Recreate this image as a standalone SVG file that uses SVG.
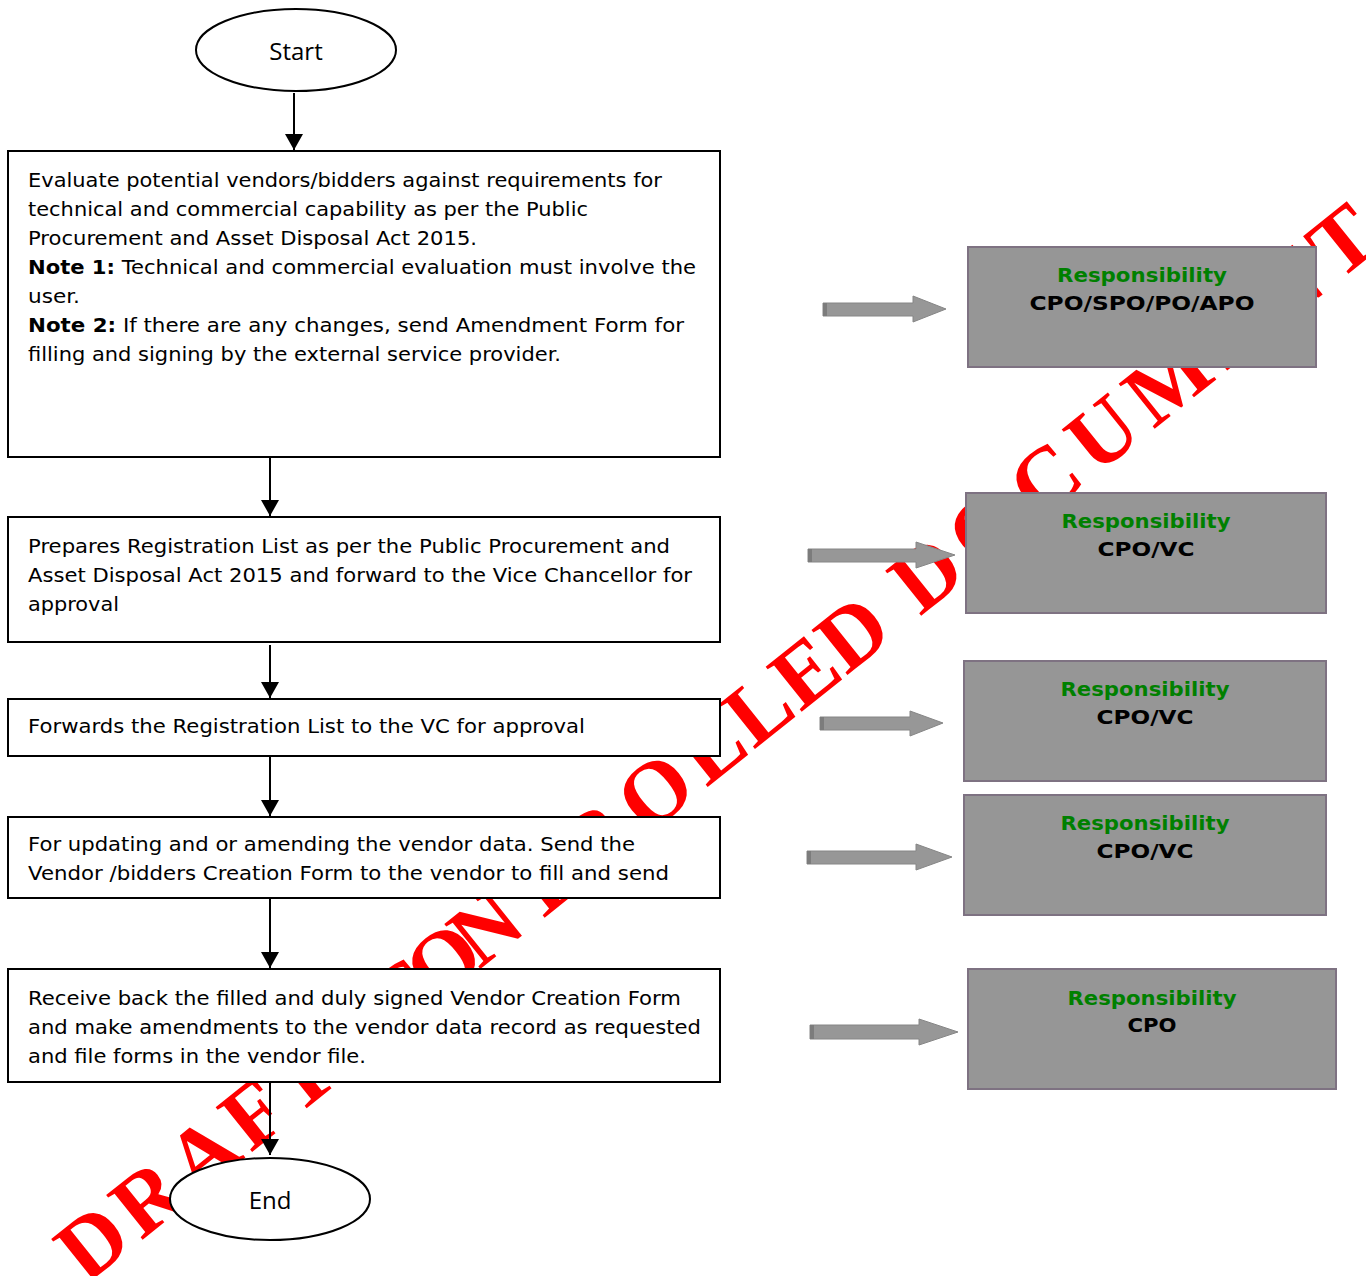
<svg xmlns="http://www.w3.org/2000/svg" width="1366" height="1276" viewBox="0 0 1366 1276">
  <defs>
    <style>
      .step { fill: #ffffff; stroke: #000000; stroke-width: 2; }
      .term { fill: #ffffff; stroke: #000000; stroke-width: 2; }
      .body { font-family: 'DejaVu Sans', sans-serif; font-size: 20px; fill: #000000; }
      .body tspan.b { font-weight: bold; }
      .termtxt { font-family: 'Open Sans', 'Noto Sans', sans-serif; font-size: 24px; fill: #000000; text-anchor: middle; }
      .resp { fill: #969696; stroke: #7e7282; stroke-width: 2; }
      .resptitle { font-family: 'DejaVu Sans', sans-serif; font-weight: bold; font-size: 20px; fill: #008000; text-anchor: middle; }
      .resprole { font-family: 'DejaVu Sans', sans-serif; font-weight: bold; font-size: 20px; fill: #000000; text-anchor: middle; }
      .flow { stroke: #000000; stroke-width: 2; fill: none; marker-end: url(#head); }
      .block { fill: #979797; stroke: #868686; stroke-width: 1; }
      .blockend { fill: #7c7c7c; }
      .mark { font-family: 'Liberation Serif', 'Times New Roman', serif; font-weight: bold; font-size: 88px; fill: #ff0000; }
    </style>
    <marker id="head" viewBox="0 0 16 18" refX="16" refY="9" markerWidth="16" markerHeight="18" markerUnits="userSpaceOnUse" orient="auto">
      <path d="M0,0 L16,9 L0,18 Z" fill="#000000"/>
    </marker>
  </defs>

  <rect width="1366" height="1276" fill="#ffffff"/>

  <!-- watermark, sits under every shape -->
  <text class="mark" transform="translate(86,1285) rotate(-38.7)" dx="0 7 7 6 5 -20 -20 -20 -20 -12 -12 7 11 11 8 2 1 0 3 6 10 10 10 10 10 10 11">DRAFT UNCONTROLLED DOCUMENT</text>

  <!-- flow nodes -->
  <g id="start">
    <ellipse class="term" cx="296" cy="50" rx="100" ry="41"/>
    <text class="termtxt" x="296" y="60">Start</text>
  </g>

  <g id="evaluate">
    <rect class="step" x="8" y="151" width="712" height="306"/>
    <text class="body" x="28" y="187" textLength="634" lengthAdjust="spacingAndGlyphs">Evaluate potential vendors/bidders against requirements for</text>
    <text class="body" x="28" y="216" textLength="560" lengthAdjust="spacingAndGlyphs">technical and commercial capability as per the Public</text>
    <text class="body" x="28" y="245" textLength="449" lengthAdjust="spacingAndGlyphs">Procurement and Asset Disposal Act 2015.</text>
    <text class="body" x="28" y="274" textLength="668" lengthAdjust="spacingAndGlyphs"><tspan class="b">Note 1:</tspan> Technical and commercial evaluation must involve the</text>
    <text class="body" x="28" y="303" textLength="52" lengthAdjust="spacingAndGlyphs">user.</text>
    <text class="body" x="28" y="332" textLength="656" lengthAdjust="spacingAndGlyphs"><tspan class="b">Note 2:</tspan> If there are any changes, send Amendment Form for</text>
    <text class="body" x="28" y="361" textLength="533" lengthAdjust="spacingAndGlyphs">filling and signing by the external service provider.</text>
  </g>

  <g id="prepare">
    <rect class="step" x="8" y="517" width="712" height="125"/>
    <text class="body" x="28" y="553" textLength="642" lengthAdjust="spacingAndGlyphs">Prepares Registration List as per the Public Procurement and</text>
    <text class="body" x="28" y="582" textLength="664" lengthAdjust="spacingAndGlyphs">Asset Disposal Act 2015 and forward to the Vice Chancellor for</text>
    <text class="body" x="28" y="611" textLength="91" lengthAdjust="spacingAndGlyphs">approval</text>
  </g>

  <g id="forward">
    <rect class="step" x="8" y="699" width="712" height="57"/>
    <text class="body" x="28" y="733" textLength="557" lengthAdjust="spacingAndGlyphs">Forwards the Registration List to the VC for approval</text>
  </g>

  <g id="update">
    <rect class="step" x="8" y="817" width="712" height="81"/>
    <text class="body" x="28" y="851" textLength="607" lengthAdjust="spacingAndGlyphs">For updating and or amending the vendor data. Send the</text>
    <text class="body" x="28" y="880" textLength="641" lengthAdjust="spacingAndGlyphs">Vendor /bidders Creation Form to the vendor to fill and send</text>
  </g>

  <g id="receive">
    <rect class="step" x="8" y="969" width="712" height="113"/>
    <text class="body" x="28" y="1005" textLength="653" lengthAdjust="spacingAndGlyphs">Receive back the filled and duly signed Vendor Creation Form</text>
    <text class="body" x="28" y="1034" textLength="673" lengthAdjust="spacingAndGlyphs">and make amendments to the vendor data record as requested</text>
    <text class="body" x="28" y="1063" textLength="338" lengthAdjust="spacingAndGlyphs">and file forms in the vendor file.</text>
  </g>

  <g id="end">
    <ellipse class="term" cx="270" cy="1199" rx="100" ry="41"/>
    <text class="termtxt" x="270" y="1209">End</text>
  </g>

  <!-- responsibility panels -->
  <g id="resp1">
    <rect class="resp" x="968" y="247" width="348" height="120"/>
    <text class="resptitle" x="1142" y="282" textLength="170" lengthAdjust="spacingAndGlyphs">Responsibility</text>
    <text class="resprole" x="1142" y="310" textLength="225" lengthAdjust="spacingAndGlyphs">CPO/SPO/PO/APO</text>
  </g>
  <g id="resp2">
    <rect class="resp" x="966" y="493" width="360" height="120"/>
    <text class="resptitle" x="1146" y="528" textLength="169" lengthAdjust="spacingAndGlyphs">Responsibility</text>
    <text class="resprole" x="1146" y="556" textLength="97" lengthAdjust="spacingAndGlyphs">CPO/VC</text>
  </g>
  <g id="resp3">
    <rect class="resp" x="964" y="661" width="362" height="120"/>
    <text class="resptitle" x="1145" y="696" textLength="169" lengthAdjust="spacingAndGlyphs">Responsibility</text>
    <text class="resprole" x="1145" y="724" textLength="97" lengthAdjust="spacingAndGlyphs">CPO/VC</text>
  </g>
  <g id="resp4">
    <rect class="resp" x="964" y="795" width="362" height="120"/>
    <text class="resptitle" x="1145" y="830" textLength="169" lengthAdjust="spacingAndGlyphs">Responsibility</text>
    <text class="resprole" x="1145" y="858" textLength="97" lengthAdjust="spacingAndGlyphs">CPO/VC</text>
  </g>
  <g id="resp5">
    <rect class="resp" x="968" y="969" width="368" height="120"/>
    <text class="resptitle" x="1152" y="1005" textLength="169" lengthAdjust="spacingAndGlyphs">Responsibility</text>
    <text class="resprole" x="1152" y="1032" textLength="49" lengthAdjust="spacingAndGlyphs">CPO</text>
  </g>

  <!-- connectors -->
  <g id="connectors">
    <line class="flow" x1="294" y1="93" x2="294" y2="150"/>
    <line class="flow" x1="270" y1="458" x2="270" y2="516"/>
    <line class="flow" x1="270" y1="645" x2="270" y2="698"/>
    <line class="flow" x1="270" y1="757" x2="270" y2="816"/>
    <line class="flow" x1="270" y1="899" x2="270" y2="968"/>
    <line class="flow" x1="270" y1="1083" x2="270" y2="1155"/>

    <path class="block" d="M823,303 H913 V296 L946,309 L913,322 V316 H823 Z"/>
    <rect class="blockend" x="823" y="303" width="4" height="13"/>
    <path class="block" d="M808,549 H916 V542 L955,555 L916,568 V562 H808 Z"/>
    <rect class="blockend" x="808" y="549" width="4" height="13"/>
    <path class="block" d="M820,717 H910 V711 L943,723 L910,736 V730 H820 Z"/>
    <rect class="blockend" x="820" y="717" width="4" height="13"/>
    <path class="block" d="M807,851 H916 V844 L952,857 L916,870 V864 H807 Z"/>
    <rect class="blockend" x="807" y="851" width="4" height="13"/>
    <path class="block" d="M810,1025 H919 V1019 L958,1032 L919,1045 V1039 H810 Z"/>
    <rect class="blockend" x="810" y="1025" width="4" height="14"/>
  </g>
</svg>
